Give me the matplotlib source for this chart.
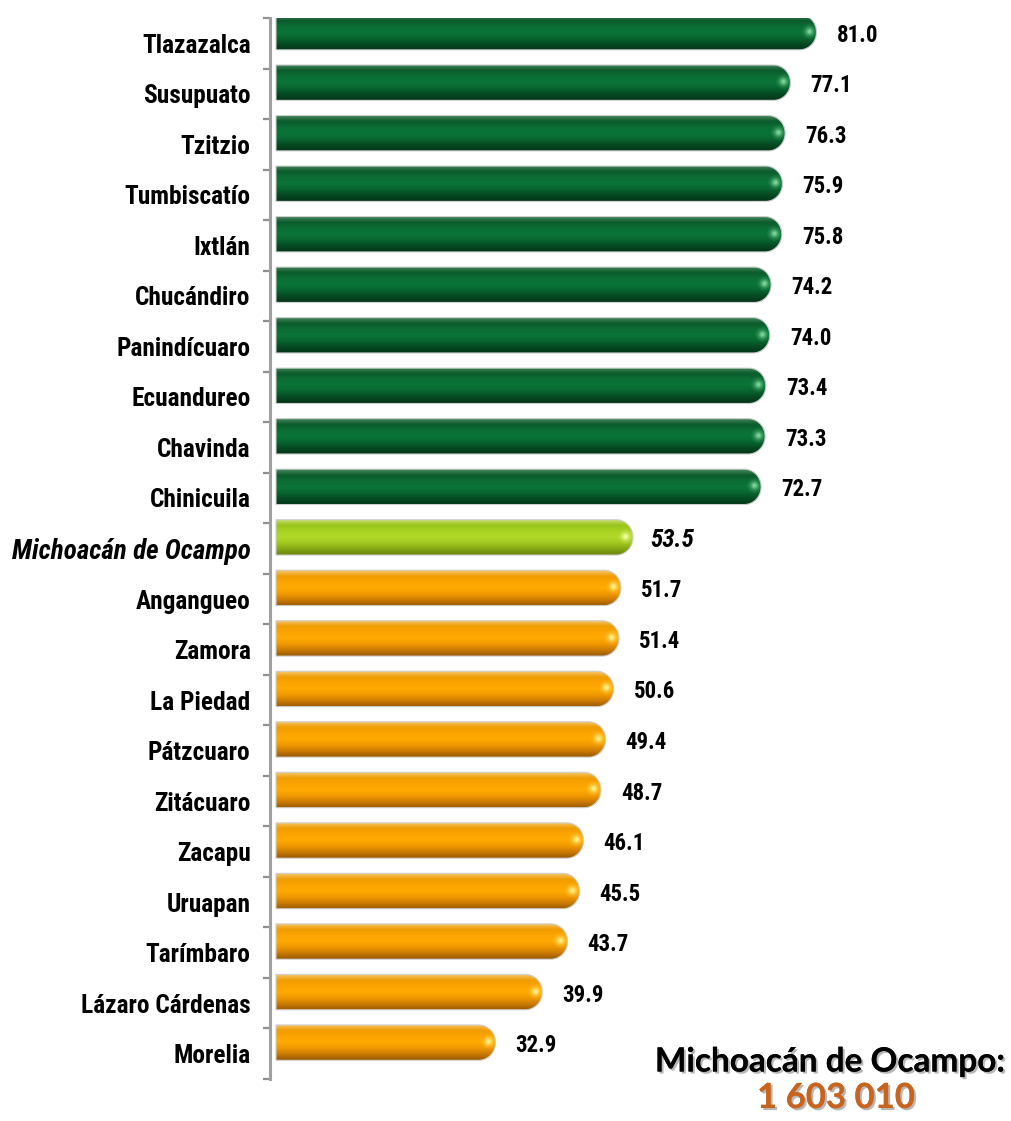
import numpy as np
import matplotlib
matplotlib.use("Agg")
import matplotlib.pyplot as plt
from matplotlib import font_manager as fm
from matplotlib.path import Path
from matplotlib.patches import PathPatch
from matplotlib.colors import LinearSegmentedColormap
import matplotlib.patheffects as pe

categories = ["Tlazazalca", "Susupuato", "Tzitzio", "Tumbiscatío", "Ixtlán",
              "Chucándiro", "Panindícuaro", "Ecuandureo", "Chavinda", "Chinicuila",
              "Michoacán de Ocampo", "Angangueo", "Zamora", "La Piedad", "Pátzcuaro",
              "Zitácuaro", "Zacapu", "Uruapan", "Tarímbaro", "Lázaro Cárdenas", "Morelia"]
values = [81.0, 77.1, 76.3, 75.9, 75.8, 74.2, 74.0, 73.4, 73.3, 72.7,
          53.5, 51.7, 51.4, 50.6, 49.4, 48.7, 46.1, 45.5, 43.7, 39.9, 32.9]
groups = ["top"] * 10 + ["state"] + ["bottom"] * 10
state_name = "Michoacán de Ocampo:"
state_total = "1 603 010"

names = {f.name for f in fm.fontManager.ttflist}
narrow, scale = "Liberation Sans", 0.9
for cand, sc in [("Liberation Sans Narrow", 1.08), ("Roboto Condensed", 1.0),
                 ("DejaVu Sans Condensed", 0.92)]:
    if cand in names:
        narrow, scale = cand, sc
        break
calib = "Lato" if "Lato" in names else "DejaVu Sans"

grad = {
    "top": ["#4a8a60", "#0c5a2b", "#0b6e35", "#0a7538", "#086630", "#054a22", "#03361a"],
    "state": ["#c8e070", "#98c41c", "#a8d222", "#b2da2a", "#a2c820", "#86a816", "#6a860e"],
    "bottom": ["#f4c870", "#f09c00", "#fca400", "#ffaa00", "#f09800", "#cc7c00", "#9a5a00"],
}
hl = {"top": "#7fd69a", "state": "#f4ff9a", "bottom": "#fff28a"}

W, H = 1011, 1121
fig = plt.figure(figsize=(W / 100, H / 100), dpi=100)
ax = fig.add_axes([270 / W, 42 / H, 740 / W, 1061 / H])
ax.set_xlim(-0.9, 110.0)
ax.set_ylim(len(categories) - 0.5, -0.5)

ypos = np.arange(len(categories))
bar_h = 0.70
shift = -0.22
centers = ypos + shift

bars = ax.barh(centers, values, height=bar_h, left=0, color=[grad[g][3] for g in groups],
               zorder=2, linewidth=0)

fig.canvas.draw()
p0 = ax.transData.transform((0, 0))
p1 = ax.transData.transform((1, 1))
px_x = abs(p1[0] - p0[0])
px_y = abs(p1[1] - p0[1])
ry = bar_h / 2
rx = ry * px_y / px_x * 0.95

for rect, v, g, yc in zip(bars, values, groups, centers):
    t = np.linspace(-np.pi / 2, np.pi / 2, 40)
    xs = [0, v - rx] + list(v - rx + rx * np.cos(t)) + [v - rx, 0]
    ys = [yc + ry, yc + ry] + list(yc - ry * np.sin(t)) + [yc - ry, yc - ry]
    verts = list(zip(xs, ys)) + [(0, yc + ry)]
    codes = [Path.MOVETO] + [Path.LINETO] * (len(verts) - 2) + [Path.CLOSEPOLY]
    path = Path(verts, codes)
    clip = PathPatch(path, transform=ax.transData, facecolor="none", edgecolor="#cfcfcf",
                     linewidth=0.8, zorder=4)
    ax.add_patch(clip)
    rect.set_clip_path(clip)
    cmap = LinearSegmentedColormap.from_list("g", grad[g])
    gimg = np.linspace(0, 1, 64).reshape(-1, 1)
    im = ax.imshow(gimg, cmap=cmap, aspect="auto", origin="upper",
                   extent=(0, v, yc + ry, yc - ry), zorder=3, interpolation="bicubic")
    im.set_clip_path(clip)
    for s, a in [(110, 0.12), (55, 0.25), (22, 0.5), (7, 0.8)]:
        sc = ax.scatter([v - rx * 0.45], [yc - 0.03], s=s, color=hl[g], alpha=a,
                        linewidths=0, zorder=5)
        sc.set_clip_path(clip)

for v, g, yc in zip(values, groups, centers):
    if g == "state":
        ax.text(v + 2.6, yc + 0.06, f"{v:.1f}", ha="left", va="center",
                fontsize=18 * scale, fontweight="bold", fontstyle="italic",
                family=narrow, color="black", zorder=6)
    else:
        ax.text(v + 3.0, yc + 0.06, f"{v:.1f}", ha="left", va="center",
                fontsize=16.5 * scale, fontweight="bold", family=narrow,
                color="black", zorder=6)

ax.set_yticks(ypos)
ax.set_yticklabels(categories)
for lab, g in zip(ax.get_yticklabels(), groups):
    lab.set_fontfamily(narrow)
    lab.set_fontsize(18.3 * scale)
    lab.set_fontweight("bold")
    if g == "state":
        lab.set_fontstyle("italic")
        lab.set_fontsize(19.5 * scale)
ax.tick_params(axis="y", which="major", length=0, pad=14)
ax.set_yticks(np.arange(-0.5, len(categories), 1.0), minor=True)
ax.tick_params(axis="y", which="minor", length=5, width=1.6, color="#909090", direction="out")
ax.set_xticks([])
for sp in ["top", "right", "bottom"]:
    ax.spines[sp].set_visible(False)
ax.spines["left"].set_color("#a0a0a0")
ax.spines["left"].set_linewidth(2.2)

shadow = [pe.withSimplePatchShadow(offset=(1.5, -1.5), shadow_rgbFace="#888888", alpha=0.6),
          pe.Normal()]
fig.text(830 / W, 1 - 1062 / H, state_name, ha="center", va="center", fontsize=24,
         fontweight="bold", family=calib, color="black", path_effects=shadow)
fig.text(836 / W, 1 - 1098 / H, state_total, ha="center", va="center", fontsize=25,
         fontweight="bold", family=calib, color="#c8641e", path_effects=shadow)

fig.savefig("out.png", dpi=100)
